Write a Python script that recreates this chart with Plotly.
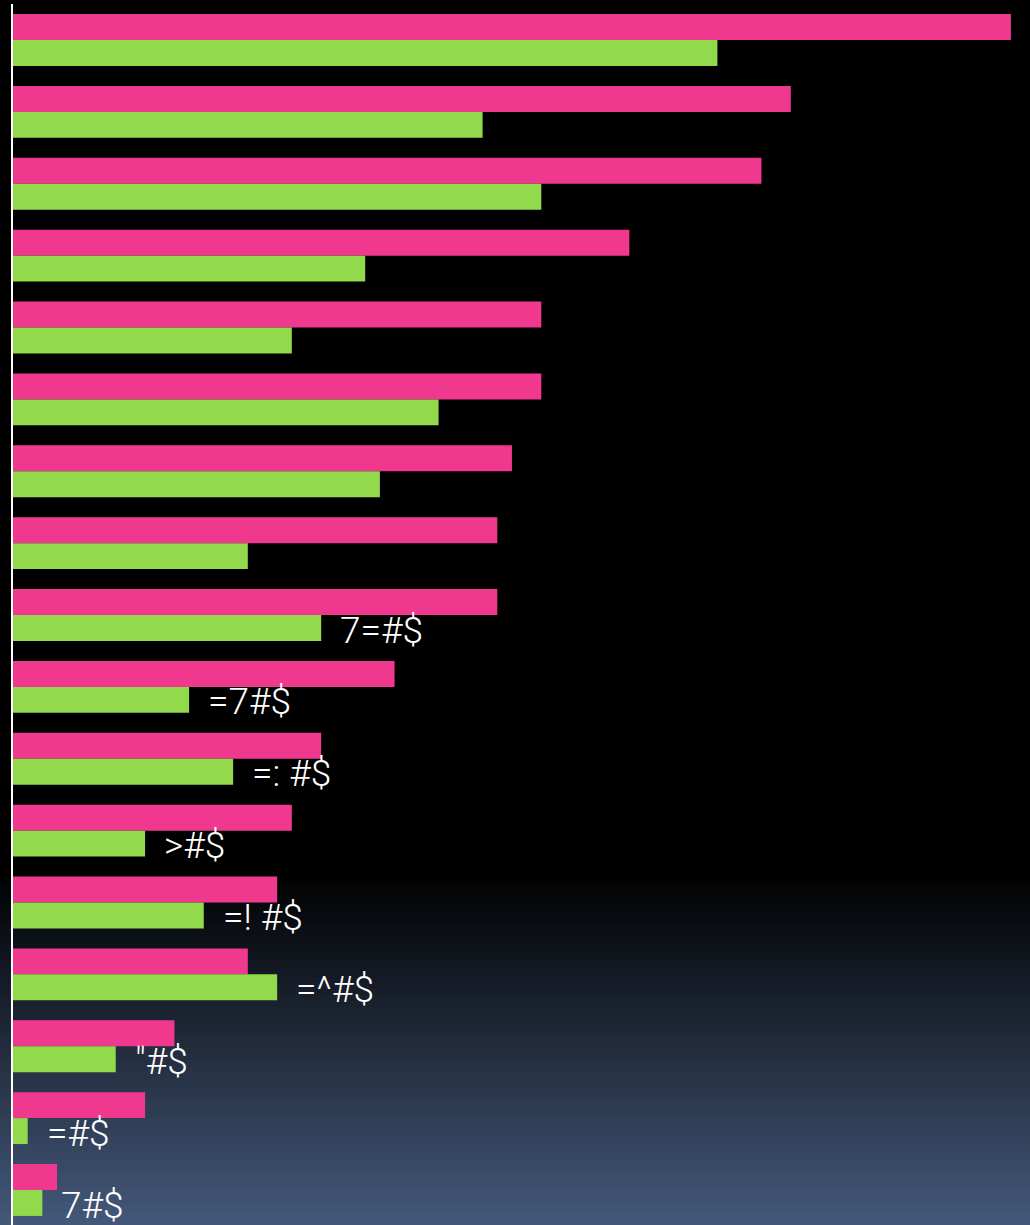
import plotly.graph_objects as go

categories = [f"c{i}" for i in range(1, 18)]
pink_values = [68, 53, 51, 42, 36, 36, 34, 33, 33, 26, 21, 19, 18, 16, 11, 9, 3]
green_values = [48, 32, 36, 24, 19, 29, 25, 16, 21, 12, 15, 9, 13, 18, 7, 1, 2]
green_labels = ["", "", "", "", "", "", "", "", "7=#$", "=7#$", "=: #$", ">#$",
                "=! #$", "=^#$", "\"#$", "=#$", "7#$"]

PINK = "#f0388f"
GREEN = "#92d94c"

fig = go.Figure()
fig.add_trace(go.Bar(y=categories, x=pink_values, orientation="h",
                     marker=dict(color=PINK, line=dict(width=0)), name="A"))
fig.add_trace(go.Bar(y=categories, x=green_values, orientation="h",
                     marker=dict(color=GREEN, line=dict(width=0)), name="B"))

annotations = []
for cat, val, lab in zip(categories, green_values, green_labels):
    if lab:
        annotations.append(dict(x=val, y=cat, xref="x", yref="y", text=lab,
                                showarrow=False, xanchor="left", yanchor="middle",
                                xshift=17, yshift=-15,
                                font=dict(color="white", size=37, weight=300,
                                          family="Roboto, sans-serif")))

# background gradient (black to slate blue at bottom)
shapes = []
n = 60
y_start = 0.29
top = (0, 0, 0)
bottom = (68, 88, 122)
for i in range(n):
    y0 = y_start * i / n
    y1 = y_start * (i + 1) / n
    f = 1 - (i + 0.5) / n
    c = tuple(int(round(top[k] + (bottom[k] - top[k]) * f)) for k in range(3))
    shapes.append(dict(type="rect", xref="paper", yref="paper", x0=-0.05, x1=1.05,
                       y0=y0, y1=y1 + 0.001, line=dict(width=0),
                       fillcolor=f"rgb{c}", layer="below"))

fig.update_layout(
    width=1030, height=1225,
    margin=dict(l=13, r=0, t=4, b=0),
    paper_bgcolor="black", plot_bgcolor="rgba(0,0,0,0)",
    barmode="group", bargap=0.278, bargroupgap=0,
    showlegend=False,
    annotations=annotations,
    shapes=shapes,
    xaxis=dict(range=[0, 69.3], showgrid=False, zeroline=False, showticklabels=False,
               ticks="", showline=False),
    yaxis=dict(range=[16.487, -0.501], showgrid=False, zeroline=False, showticklabels=False,
               ticks="", showline=True, linecolor="white", linewidth=2),
)

fig.write_html("out.html", config={"displayModeBar": False},
               post_script="document.body.style.margin='0';document.body.style.background='#000';document.body.style.overflow='hidden';")
